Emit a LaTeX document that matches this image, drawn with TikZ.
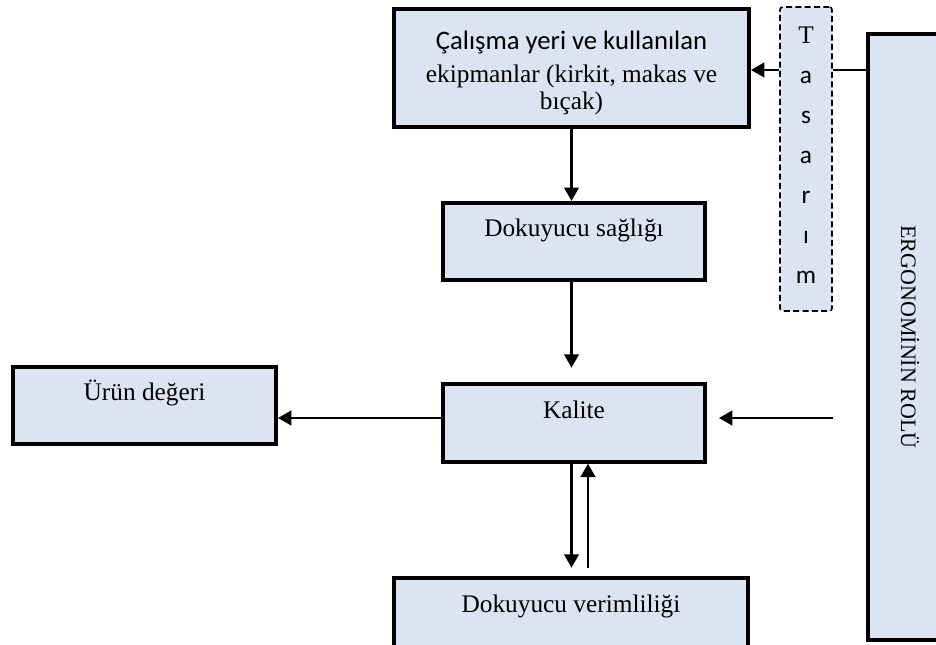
\documentclass[tikz,border=0pt]{standalone}
\usepackage{fontspec}
\setmainfont{Liberation Serif}
\newfontfamily\calfont{Carlito}
\usetikzlibrary{arrows.meta}
\definecolor{boxblue}{HTML}{DBE5F1}
\def\thepx{0.75pt}

\begin{document}
\begin{tikzpicture}[x=\thepx,y=-\thepx,
    theframe/.style={draw,line width=3pt,fill=boxblue,inner sep=0pt,
      font=\fontsize{19}{20}\selectfont},
    thebox/.style={theframe,text height=25.5pt,text depth=32.5pt},
    thedashbox/.style={draw,line width=1.2pt,dash pattern=on 4.5pt off 2.5pt,
      rounded corners=2pt,fill=boxblue,inner sep=0pt},
    thearrow/.style={line width=1.6pt,-{Triangle[length=10pt,width=11pt]}},
    theline/.style={line width=1.6pt}
    ]
    \useasboundingbox (0,0) rectangle (936,644);

    \node[theframe,align=center,minimum width=355*\thepx,minimum height=118*\thepx]
      (calisma) at (571.5,68) {{\calfont\fontsize{20}{20}\selectfont\rule{0pt}{21pt}Çalışma yeri ve kullanılan}\\[5pt]
      ekipmanlar (kirkit, makas ve\\ bıçak)};
    \node[thebox,minimum width=262*\thepx] (saglik) at (574,241.5) {Dokuyucu sağlığı};
    \node[thebox,minimum width=262*\thepx] (kalite) at (574,423) {Kalite};
    \node[thebox,minimum width=263*\thepx] (urun) at (144.5,405.5) {Ürün değeri};
    \node[thebox,minimum width=354*\thepx] (verim) at (571,617) {Dokuyucu verimliliği};
    \node[theframe,minimum width=84*\thepx,minimum height=606*\thepx] (ergo) at (910,337) {};
    \node[rotate=-90,font=\fontsize{16.5}{18}\selectfont] (ergotext) at (ergo.center)
      {ERGONOMİNİN ROLÜ};
    \node[thedashbox,minimum width=52*\thepx,minimum height=304*\thepx,align=center,
      font=\calfont\fontsize{19}{30}\selectfont] (tasarim) at (806,159)
      {{\rmfamily T}\\a\\s\\a\\r\\ı\\m\rule[-6pt]{0pt}{0pt}};

    \draw[theline] ([yshift=-1.5pt]calisma.east -| ergo.west) -- ([yshift=-1.5pt]calisma.east -| tasarim.east);
    \draw[thearrow] ([yshift=-1.5pt]calisma.east -| tasarim.west) -- ([yshift=-1.5pt]calisma.east);
    \draw[thearrow] (calisma.south) -- (calisma.south |- saglik.north);
    \draw[thearrow,shorten >=11pt] (calisma.south |- saglik.south) -- (calisma.south |- kalite.north);
    \draw[thearrow] ([yshift=3.75pt]kalite.west) -- ([yshift=3.75pt]kalite.west -| urun.east);
    \draw[thearrow,shorten >=9pt] ([yshift=3.75pt]kalite.east -| tasarim.east) -- ([yshift=3.75pt]kalite.east);
    \draw[thearrow,shorten >=6.5pt] (calisma.south |- kalite.south) -- (calisma.south |- verim.north);
    \draw[thearrow,shorten <=6.5pt] ([xshift=10.5pt]kalite.south |- verim.north) -- ([xshift=10.5pt]kalite.south);
  \end{tikzpicture}
\end{document}
